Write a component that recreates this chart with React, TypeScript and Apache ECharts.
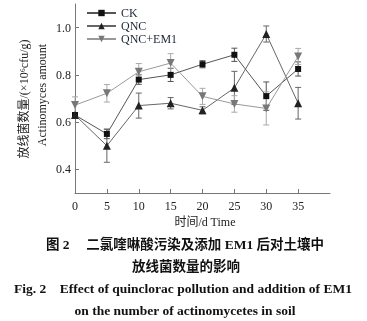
import React, { useEffect, useRef } from "react";
import * as echarts from "echarts";

const days = [0, 5, 10, 15, 20, 25, 30, 35];
const ck = [0.63, 0.55, 0.78, 0.8, 0.845, 0.885, 0.71, 0.825];
const ckErr = [0.01, 0.02, 0.02, 0.028, 0.015, 0.028, 0.06, 0.03];
const qnc = [0.63, 0.5, 0.67, 0.68, 0.65, 0.745, 0.973, 0.68];
const qncErr = [0.01, 0.07, 0.053, 0.024, 0.015, 0.07, 0.034, 0.067];
const em = [0.672, 0.722, 0.813, 0.85, 0.709, 0.677, 0.658, 0.878];
const emErr = [0.035, 0.037, 0.035, 0.04, 0.034, 0.035, 0.07, 0.034];
const xTicks = [0, 5, 10, 15, 20, 25, 30, 35];
const yTicks = [0.4, 0.6, 0.8, 1.0];

const FONT = "Liberation Serif";
const CJK = "Liberation Serif, Noto Sans CJK SC";

function errSeries(name: string, vals: number[], errs: number[], color: string) {
  return {
    type: "custom",
    name: name + "-err",
    silent: true,
    z: 1,
    data: days.map((d, i) => [d, vals[i] - errs[i], vals[i] + errs[i]]),
    renderItem: (params: any, api: any) => {
      const x = api.value(0);
      const lo = api.coord([x, api.value(1)]);
      const hi = api.coord([x, api.value(2)]);
      const w = 3;
      const st = { stroke: color, lineWidth: 1 };
      return {
        type: "group",
        children: [
          { type: "line", shape: { x1: lo[0], y1: lo[1], x2: hi[0], y2: hi[1] }, style: st },
          { type: "line", shape: { x1: lo[0] - w, y1: lo[1], x2: lo[0] + w, y2: lo[1] }, style: st },
          { type: "line", shape: { x1: hi[0] - w, y1: hi[1], x2: hi[0] + w, y2: hi[1] }, style: st },
        ],
      };
    },
  };
}

function txt(text: string, x: number, y: number, size: number, family: string, bold: boolean, rot = 0) {
  return {
    type: "text",
    x,
    y,
    rotation: rot,
    style: {
      text,
      fontFamily: family,
      fontSize: size,
      fontWeight: bold ? "bold" : "normal",
      fill: bold ? "#111" : "#222",
      align: "center",
      verticalAlign: "middle",
    },
  };
}

export default function App() {
  const ref = useRef<HTMLDivElement>(null);
  useEffect(() => {
    if (!ref.current) return;
    const chart = echarts.init(ref.current, undefined, { renderer: "svg" });
    const lineS = (name: string, vals: number[], color: string, mcolor: string, symbol: string, size: number) => ({
      type: "line",
      name,
      data: days.map((d, i) => [d, vals[i]]),
      symbol,
      symbolSize: size,
      z: 3,
      lineStyle: { color, width: 1 },
      itemStyle: { color: mcolor },
    });
    chart.setOption({
      animation: false,
      grid: { left: 75, right: 37, top: 4, bottom: 128 },
      legend: {
        orient: "vertical",
        left: 86,
        top: 7,
        padding: 0,
        itemWidth: 29,
        itemHeight: 8,
        itemGap: 1,
        textStyle: { fontFamily: FONT, fontSize: 12, color: "#1c2535" },
        data: ["CK", "QNC", "QNC+EM1"],
      },
      xAxis: {
        type: "value",
        min: 0,
        max: 40,
        interval: 5,
        axisLine: { lineStyle: { color: "#777", width: 1 } },
        axisTick: { inside: true, length: 4, customValues: xTicks, lineStyle: { color: "#777" } },
        axisLabel: { customValues: xTicks, margin: 7, fontFamily: FONT, fontSize: 12, color: "#222" },
        splitLine: { show: false },
      },
      yAxis: {
        type: "value",
        min: 0.3,
        max: 1.1,
        interval: 0.1,
        axisLine: { show: true, lineStyle: { color: "#777", width: 1 } },
        axisTick: { show: true, inside: true, length: 4, customValues: yTicks, lineStyle: { color: "#777" } },
        axisLabel: {
          customValues: yTicks,
          margin: 4,
          fontFamily: FONT,
          fontSize: 12,
          color: "#222",
          formatter: (v: number) => v.toFixed(1),
        },
        splitLine: { show: false },
      },
      graphic: [
        txt("放线菌数量/(×10⁶cfu/g)", 24, 99, 12, CJK, false, Math.PI / 2),
        txt("Actinomyces amount", 42, 95, 12, FONT, false, Math.PI / 2),
        txt("时间/d Time", 205, 222, 12, CJK, false),
        txt("图 2　 二氯喹啉酸污染及添加 EM1 后对土壤中", 185, 244, 13.5, CJK, true),
        txt("放线菌数量的影响", 186, 266, 13.5, CJK, true),
        txt("Fig. 2    Effect of quinclorac pollution and addition of EM1", 183, 288, 13.5, FONT, true),
        txt("on the number of actinomycetes in soil", 185, 310, 13.5, FONT, true),
      ],
      series: [
        errSeries("CK", ck, ckErr, "#555"),
        errSeries("QNC", qnc, qncErr, "#666"),
        errSeries("QNC+EM1", em, emErr, "#aaa"),
        lineS("CK", ck, "#555", "#111", "rect", 6),
        lineS("QNC", qnc, "#666", "#222", "triangle", 8),
        { ...lineS("QNC+EM1", em, "#999", "#777", "triangle", 8), symbolRotate: 180 },
      ],
    });
    return () => chart.dispose();
  }, []);
  return <div ref={ref} style={{ position: "fixed", left: 0, top: 0, width: 367, height: 321 }} />;
}
